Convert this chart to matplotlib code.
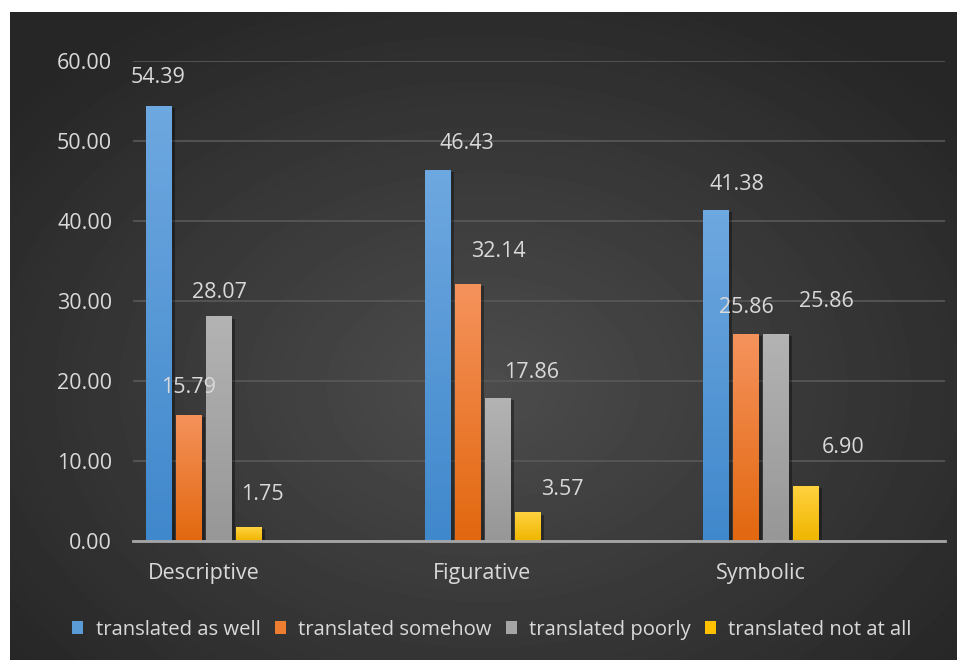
import numpy as np
import matplotlib
matplotlib.use('Agg')
import matplotlib.pyplot as plt
import matplotlib.patheffects as pe
from matplotlib.patches import Patch

categories = ['Descriptive', 'Figurative', 'Symbolic']
series_names = ['translated as well', 'translated somehow',
                'translated poorly', 'translated not at all']
as_well = [54.39, 46.43, 41.38]
somehow = [15.79, 32.14, 25.86]
poorly = [28.07, 17.86, 25.86]
not_at_all = [1.75, 3.57, 6.90]
y_ticks = [0, 10, 20, 30, 40, 50, 60]

# gradient colours per series (top, bottom)
top_colors = ['#6ea8e0', '#f5925c', '#b3b3b3', '#ffd23f']
bottom_colors = ['#4088cc', '#e2680f', '#979797', '#efb500']
mid_colors = ['#5b9bd5', '#ed7d31', '#a5a5a5', '#ffc000']

# data label offsets in pixels (the labels were moved by hand in the original)
label_dx = [[-1, 30, 21], [0, 31, 0], [0, 34, 50], [13, 35, 37]]
label_dy = [[28, 26, 25], [27, 32, 27], [24, 26, 33], [33, 23, 38]]

plt.rcParams['font.family'] = ['Open Sans', 'DejaVu Sans']
text_color = '#d9d9d9'
fs = 15.5

fig = plt.figure(figsize=(9.57, 6.6), dpi=100)
fig.patch.set_facecolor('white')

# dark radial-gradient panel behind the chart
bg = fig.add_axes([10 / 957, 0, 947 / 957, 648 / 660], zorder=0)
ny, nx = 200, 300
yy, xx = np.mgrid[0:1:ny * 1j, 0:1:nx * 1j]
r = np.sqrt(((xx - 0.5) / 0.65) ** 2 + ((yy - 0.42) / 0.68) ** 2)
r = np.clip(r, 0, 1)
c_in, c_out = 0.30, 0.15
grad = c_in + (c_out - c_in) * r
bg.imshow(grad, cmap='gray', vmin=0, vmax=1, aspect='auto', origin='lower',
          extent=(0, 1, 0, 1), interpolation='bicubic')
bg.set_axis_off()

ax = fig.add_axes([133 / 957, 119 / 660, 812 / 957, 480 / 660], zorder=1)
ax.patch.set_alpha(0)

series = [as_well, somehow, poorly, not_at_all]
x = np.arange(len(categories))
width = 0.092
step = 0.108
offsets = (np.arange(4) - 1.5) * step

for i, vals in enumerate(series):
    bars = ax.bar(x + offsets[i], vals, width, color=mid_colors[i], zorder=3,
                  path_effects=[pe.SimplePatchShadow(offset=(2.5, -1.5), shadow_rgbFace='black', alpha=0.35),
                                pe.Normal()])
    cmap = matplotlib.colors.LinearSegmentedColormap.from_list(
        'g%d' % i, [bottom_colors[i], top_colors[i]])
    for j, b in enumerate(bars):
        x0 = b.get_x()
        h = b.get_height()
        im = ax.imshow(np.linspace(0, 1, 64).reshape(-1, 1), cmap=cmap, origin='lower',
                       extent=(x0, x0 + b.get_width(), 0, h), aspect='auto', zorder=4)
        im.set_clip_path(b)
        ax.annotate('%.2f' % vals[j], (x0 + b.get_width() / 2, h),
                    xytext=(label_dx[i][j], label_dy[i][j]), textcoords='offset pixels',
                    ha='center', va='center', color=text_color, fontsize=fs, zorder=5)

ax.set_xlim(-0.255, 2.661)
ax.set_ylim(0, 60)
ax.set_yticks(y_ticks)
ax.set_yticklabels(['%.2f' % t for t in y_ticks])
ax.set_xticks(x)
ax.set_xticklabels(categories)
ax.tick_params(axis='y', length=0, pad=15, labelsize=fs, labelcolor=text_color)
ax.tick_params(axis='x', length=0, pad=16, labelsize=fs, labelcolor=text_color)
ax.grid(axis='y', color='#595959', linewidth=1.2, zorder=0)
for s in ['top', 'right', 'left']:
    ax.spines[s].set_visible(False)
ax.spines['bottom'].set_color('#a6a6a6')
ax.spines['bottom'].set_linewidth(2)
ax.spines['bottom'].set_zorder(6)

handles = [Patch(facecolor=c, edgecolor='none') for c in mid_colors]
fig.legend(handles, series_names, loc='center', bbox_to_anchor=(0.514, 0.046),
           ncol=4, frameon=False, fontsize=14.6, labelcolor=text_color,
           handlelength=0.55, handleheight=0.55, handletextpad=0.6, columnspacing=0.7)

fig.savefig('out.png', dpi=100, facecolor=fig.get_facecolor())
